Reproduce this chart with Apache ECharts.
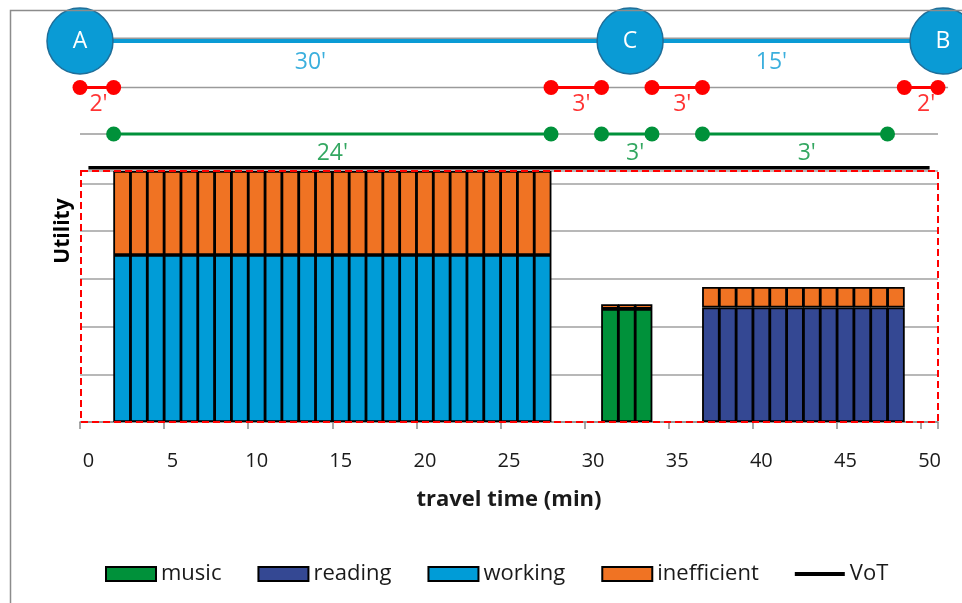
<!DOCTYPE html>
<html>
<head>
<meta charset="utf-8">
<title>Utility over travel time</title>
<script src="https://cdn.jsdelivr.net/npm/echarts@6/dist/echarts.min.js"></script>
<style>
  html, body { margin: 0; padding: 0; background: #fff; }
  #chart { width: 962px; height: 603px; }
</style>
</head>
<body>
<div id="chart"></div>
<script>
var _ = '-';

// x axis: one category per minute of travel
var minutes = [0, 1, 2, 3, 4, 5, 6, 7, 8, 9,
  10, 11, 12, 13, 14, 15, 16, 17, 18, 19,
  20, 21, 22, 23, 24, 25, 26, 27, 28, 29,
  30, 31, 32, 33, 34, 35, 36, 37, 38, 39,
  40, 41, 42, 43, 44, 45, 46, 47, 48, 49,
  50];

// utility per minute (no y labels so units = gridlines)
var music = [_, _, _, _, _, _, _, _, _, _,
  _, _, _, _, _, _, _, _, _, _,
  _, _, _, _, _, _, _, _, _, _,
  _, 2.37, 2.37, 2.37, _, _, _, _, _, _,
  _, _, _, _, _, _, _, _, _, _,
  _];
var reading = [_, _, _, _, _, _, _, _, _, _,
  _, _, _, _, _, _, _, _, _, _,
  _, _, _, _, _, _, _, _, _, _,
  _, _, _, _, _, _, _, 2.4, 2.4, 2.4,
  2.4, 2.4, 2.4, 2.4, 2.4, 2.4, 2.4, 2.4, 2.4, _,
  _];
var working = [_, _, 3.5, 3.5, 3.5, 3.5, 3.5, 3.5, 3.5, 3.5,
  3.5, 3.5, 3.5, 3.5, 3.5, 3.5, 3.5, 3.5, 3.5, 3.5,
  3.5, 3.5, 3.5, 3.5, 3.5, 3.5, 3.5, 3.5, _, _,
  _, _, _, _, _, _, _, _, _, _,
  _, _, _, _, _, _, _, _, _, _,
  _];
var inefficient = [_, _, 1.76, 1.76, 1.76, 1.76, 1.76, 1.76, 1.76, 1.76,
  1.76, 1.76, 1.76, 1.76, 1.76, 1.76, 1.76, 1.76, 1.76, 1.76,
  1.76, 1.76, 1.76, 1.76, 1.76, 1.76, 1.76, 1.76, _, _,
  _, 0.1, 0.1, 0.1, _, _, _, 0.43, 0.43, 0.43,
  0.43, 0.43, 0.43, 0.43, 0.43, 0.43, 0.43, 0.43, 0.43, _,
  _];
var vot = [5.33, 5.33, 5.33, 5.33, 5.33, 5.33, 5.33, 5.33, 5.33, 5.33,
  5.33, 5.33, 5.33, 5.33, 5.33, 5.33, 5.33, 5.33, 5.33, 5.33,
  5.33, 5.33, 5.33, 5.33, 5.33, 5.33, 5.33, 5.33, 5.33, 5.33,
  5.33, 5.33, 5.33, 5.33, 5.33, 5.33, 5.33, 5.33, 5.33, 5.33,
  5.33, 5.33, 5.33, 5.33, 5.33, 5.33, 5.33, 5.33, 5.33, 5.33,
  5.33];

// trip schematic above the chart (minutes from the left edge)
var stopNames = ['A', 'C', 'B'];
var stopTimes = [0, 32.7, 51.3];
var legTexts = ["30'", "15'"];
var legTextAt = [13.7, 41.1];
var waitSegments = [[0, 2], [28, 31], [34, 37], [49, 51]];
var waitTexts = ["2'", "3'", "3'", "2'"];
var waitTextAt = [1.1, 29.8, 35.8, 50.3];
var activitySegments = [[2, 28], [31, 34], [37, 48]];
var activityTexts = ["24'", "3'", "3'"];
var activityTextAt = [15, 33, 43.2];

var FONT = 'Open Sans';
var C_MUSIC = '#00913A', C_READ = '#344893', C_WORK = '#009CD7', C_INEFF = '#F07323';
var C_STOP = '#0A9BD5', C_RED = '#FF0000', C_GRAY = '#9a9a9a';

var chart = echarts.init(document.getElementById('chart'));

function barSeries(name, data, color) {
  return {
    name: name, type: 'bar', stack: 'utility', data: data,
    barWidth: 17.6, barGap: '-100%',
    itemStyle: { color: color, borderColor: '#000', borderWidth: 1.8 }
  };
}

// schematic helpers, all on grid 1
function segLine(seg, row, color) {
  return {
    type: 'line', xAxisIndex: 1, yAxisIndex: 1, silent: true,
    data: [[seg[0], row], [seg[1], row]],
    symbol: 'circle', symbolSize: 15, showSymbol: true,
    lineStyle: { color: color, width: 3 }, itemStyle: { color: color },
    clip: false, z: 4
  };
}
function baseLine(from, to, row, color, width) {
  return {
    type: 'line', xAxisIndex: 1, yAxisIndex: 1, silent: true,
    data: [[from, row], [to, row]], symbol: 'none',
    lineStyle: { color: color, width: width }, clip: false, z: 2
  };
}
function textMarks(at, texts, row, color, dy) {
  return {
    type: 'scatter', xAxisIndex: 1, yAxisIndex: 1, silent: true,
    data: at.map(function (x, i) { return { value: [x, row], name: texts[i] }; }),
    symbolSize: 1, itemStyle: { color: 'transparent' }, clip: false,
    label: {
      show: true, position: 'inside', offset: [0, dy], formatter: '{b}',
      color: color, fontSize: 23, fontFamily: FONT
    }, z: 5
  };
}

var series = [
  barSeries('music', music, C_MUSIC),
  barSeries('reading', reading, C_READ),
  barSeries('working', working, C_WORK),
  barSeries('inefficient', inefficient, C_INEFF),
  {
    name: 'VoT', type: 'line', data: vot, symbol: 'none', showSymbol: false, clip: false,
    lineStyle: { color: '#000', width: 3.5 }, itemStyle: { color: '#000' }, z: 6
  },
  baseLine(stopTimes[0], stopTimes[2], 3.06, C_GRAY, 1.5),
  baseLine(stopTimes[0], stopTimes[2], 3, C_STOP, 4),
  baseLine(0, 51.6, 2, C_GRAY, 1.5),
  baseLine(0, 51, 1, C_GRAY, 1.5)
];
waitSegments.forEach(function (s) { series.push(segLine(s, 2, C_RED)); });
activitySegments.forEach(function (s) { series.push(segLine(s, 1, C_MUSIC)); });
series.push(textMarks(legTextAt, legTexts, 3, C_STOP, 21));
series.push(textMarks(waitTextAt, waitTexts, 2, C_RED, 17));
series.push(textMarks(activityTextAt, activityTexts, 1, C_MUSIC, 19));
series.push({
  type: 'scatter', xAxisIndex: 1, yAxisIndex: 1, silent: true,
  data: stopTimes.map(function (t, i) { return { value: [t, 3], name: stopNames[i] }; }),
  symbolSize: 66, clip: false, z: 8,
  itemStyle: { color: C_STOP, opacity: 1, borderColor: '#1E6E99', borderWidth: 1.5 },
  label: { show: true, position: 'inside', formatter: '{b}', color: '#fff', fontSize: 23, fontFamily: FONT }
});

chart.setOption({
  animation: false,
  textStyle: { fontFamily: FONT },
  legend: {
    data: [
      { name: 'music', icon: 'rect' },
      { name: 'reading', icon: 'rect' },
      { name: 'working', icon: 'rect' },
      { name: 'inefficient', icon: 'rect' },
      { name: 'VoT', icon: 'path://M0,0 H50 V4 H0 Z' }
    ],
    left: 100, top: 558,
    itemWidth: 50, itemHeight: 14, itemGap: 36,
    textStyle: { fontSize: 22, color: '#1a1a1a', fontFamily: FONT }
  },
  grid: [
    { left: 80, right: 24, top: 171, bottom: 181 },
    { left: 80, right: 7.2, top: 41, height: 93 }
  ],
  xAxis: [{
    type: 'category', data: minutes, boundaryGap: true,
    name: 'travel time (min)', nameLocation: 'middle', nameGap: 67,
    nameTextStyle: { fontSize: 22, fontWeight: 'bold', color: '#1a1a1a', fontFamily: FONT },
    axisLine: { show: true, lineStyle: { color: '#8c8c8c', width: 1.5 } },
    axisTick: { show: true, interval: 4, length: 7, lineStyle: { color: '#8c8c8c', width: 1.5 } },
    axisLabel: { interval: 4, fontSize: 20, color: '#1a1a1a', margin: 29, fontFamily: FONT },
    splitLine: { show: false }
  }, {
    type: 'value', gridIndex: 1, min: 0, max: 52, show: false
  }],
  yAxis: [{
    type: 'value', min: 0, max: 5.26, interval: 1,
    name: 'Utility', nameLocation: 'middle', nameRotate: 90, nameGap: 6,
    nameTextStyle: { fontSize: 21, fontWeight: 'bold', color: '#000', fontFamily: FONT, padding: [0, 0, 0, 131] },
    axisLine: { show: false }, axisTick: { show: false }, axisLabel: { show: false },
    splitLine: { lineStyle: { color: '#a0a0a0', width: 1.5 } }
  }, {
    type: 'value', gridIndex: 1, min: 1, max: 3, show: false
  }],
  graphic: [
    {
      type: 'rect', z: 100, silent: true,
      shape: { x: 10.5, y: 10.5, width: 980, height: 620 },
      style: { fill: null, stroke: '#8c8c8c', lineWidth: 1.5 }
    },
    {
      type: 'rect', z: 100, silent: true,
      shape: { x: 81, y: 171, width: 857, height: 251 },
      style: { fill: null, stroke: '#FF0000', lineWidth: 2, lineDash: [7, 4] }
    }
  ],
  series: series
});
</script>
</body>
</html>
